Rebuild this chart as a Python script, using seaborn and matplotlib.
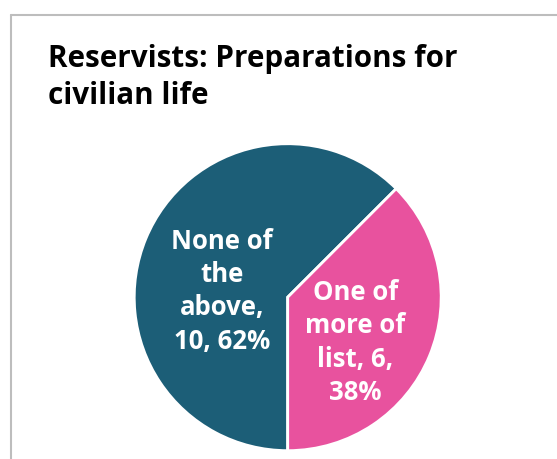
import textwrap
import numpy as np
import matplotlib
matplotlib.use("Agg")
import matplotlib.pyplot as plt
import seaborn as sns
from matplotlib.lines import Line2D

# data
categories = ["None of the above", "One of more of list"]
counts = [10, 6]
colors = ["#1c5e77", "#e8529e"]
title_lines = ["Reservists: Preparations for", "civilian life"]

# label placement inside the wedges (radius units, degrees)
label_dist = [0.43, 0.53]
label_angle = [174.7, -33.9]

sns.set_theme(style="white")
plt.rcParams["font.family"] = ["Open Sans", "DejaVu Sans"]

W, H = 557, 459
fig = plt.figure(figsize=(W / 100, H / 100), dpi=100)

# pie axes: centre (288, 297) px, radius 155 px
cx, cy, r = 287.7, 297.2, 155
ax = fig.add_axes([(cx - r) / W, (H - cy - r) / H, 2 * r / W, 2 * r / H])

total = sum(counts)
pcts = [c / total * 100 for c in counts]
texts = [textwrap.fill(f"{n}, {c}, {p:.0f}%", width=8)
         for n, c, p in zip(categories, counts, pcts)]

wedges, _ = ax.pie(counts, colors=sns.color_palette(colors), startangle=-90,
                   counterclock=False, radius=1,
                   wedgeprops=dict(edgecolor="white", linewidth=2))
ax.set_xlim(-1.01, 1.01)
ax.set_ylim(-1.01, 1.01)
ax.set_aspect("equal")

for t, d, a in zip(texts, label_dist, label_angle):
    ax.text(d * np.cos(np.radians(a)), d * np.sin(np.radians(a)), t,
            ha="center", va="center", multialignment="center",
            color="white", fontsize=18.5, fontweight="bold", linespacing=1.3)

# title, one text per line so the baselines sit where they should
for line, base in zip(title_lines, [67.3, 104.0]):
    fig.text(48.5 / W, (H - base) / H, line, ha="left", va="baseline",
             fontsize=21.3, fontweight="bold", color="black")

# chart-area border (top and left)
border = "#bdbdbd"
fig.add_artist(Line2D([10.5 / W, 1], [(H - 14.5) / H] * 2, color=border, lw=1.5))
fig.add_artist(Line2D([10.5 / W] * 2, [0, (H - 14.5) / H], color=border, lw=1.5))

fig.savefig("out.png", dpi=100)
